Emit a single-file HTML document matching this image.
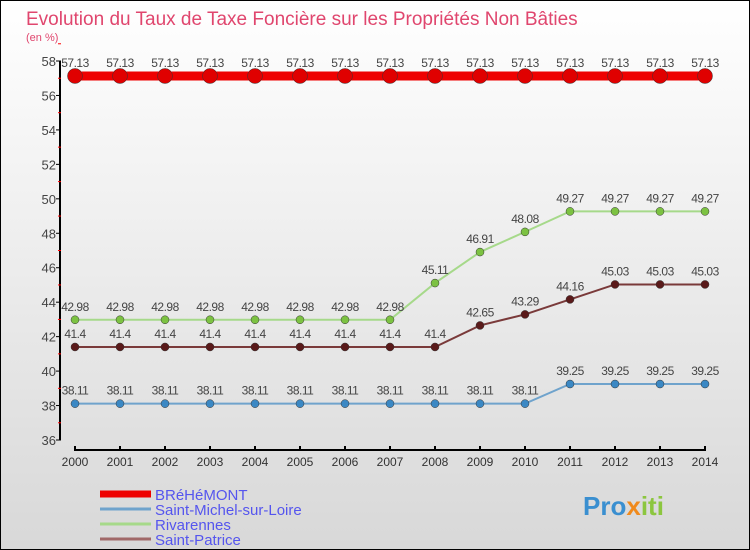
<!DOCTYPE html>
<html><head><meta charset="utf-8"><style>
body{margin:0;width:750px;height:550px;overflow:hidden}
svg{display:block;font-family:"Liberation Sans","DejaVu Sans",sans-serif}
</style></head><body>
<svg id="c" width="750" height="550">
<defs><linearGradient id="bg" x1="0" y1="0" x2="0" y2="1"><stop offset="0" stop-color="#ffffff"/><stop offset="1" stop-color="#d8d8d8"/></linearGradient></defs>
<rect x="0.5" y="0.5" width="749" height="549" fill="url(#bg)" stroke="#000"/>
<text x="26" y="25" font-size="19" fill="#e0466e">Evolution du Taux de Taxe Foncière sur les Propriétés Non Bâties</text>
<text x="26" y="41" font-size="11" fill="#e0466e">(en %)</text>
<g id="axes"></g><g id="series"></g><g id="legend"></g>
<text x="583" y="515" font-size="26" font-weight="bold" fill="#3a8fd0">Pro<tspan fill="#f08a1c">x</tspan><tspan fill="#8cc63f">iti</tspan></text>
</svg>
<script>
const years=[2000,2001,2002,2003,2004,2005,2006,2007,2008,2009,2010,2011,2012,2013,2014];
const yTicks=[36,38,40,42,44,46,48,50,52,54,56,58];
const names=["BRéHéMONT","Saint-Michel-sur-Loire","Rivarennes","Saint-Patrice"];
const bre=[57.13,57.13,57.13,57.13,57.13,57.13,57.13,57.13,57.13,57.13,57.13,57.13,57.13,57.13,57.13];
const stm=[38.11,38.11,38.11,38.11,38.11,38.11,38.11,38.11,38.11,38.11,38.11,39.25,39.25,39.25,39.25];
const riv=[42.98,42.98,42.98,42.98,42.98,42.98,42.98,42.98,45.11,46.91,48.08,49.27,49.27,49.27,49.27];
const stp=[41.4,41.4,41.4,41.4,41.4,41.4,41.4,41.4,41.4,42.65,43.29,44.16,45.03,45.03,45.03];
const NS="http://www.w3.org/2000/svg";
function X(y){return 75+(y-2000)*45;}
function Y(v){return 440-(v-36)*(379/22);}
function mk(t,a,p,txt){const e=document.createElementNS(NS,t);for(const k in a)e.setAttribute(k,a[k]);if(txt!=null)e.textContent=txt;p.appendChild(e);return e;}
const ax=document.getElementById('axes');
let e=mk('line',{x1:60,y1:Y(58),x2:60,y2:440,stroke:'#000','stroke-width':2},ax);


yTicks.forEach(t=>{
 let l=mk('line',{x1:56,y1:Y(t),x2:61,y2:Y(t),stroke:'#000'},ax);
 
 
 let m=mk('line',{x1:58,y1:Y(t+1),x2:61,y2:Y(t+1),stroke:'#f00'},ax);
 
 
 let tx=mk('text',{x:56,y:Y(t)+5,'font-size':13,'text-anchor':'end',fill:'#444'},ax,t);
 
 
});
e=mk('line',{x1:75,y1:450,x2:705,y2:450,stroke:'#000','stroke-width':2},ax);


years.forEach(y=>{
 let l=mk('line',{x1:X(y),y1:446,x2:X(y),y2:451,stroke:'#000','stroke-width':2},ax);
 
 
 let t=mk('text',{x:X(y),y:466,'font-size':12,'text-anchor':'middle',fill:'#333'},ax,y);
 
 
});
const sg=document.getElementById('series');
const specs=[[stm,'#6fa3cc',2,'#3b88c4',4],[riv,'#a6d98a',2,'#7cc242',4],[stp,'#7a3a3a',2,'#5a1a1a',4],[bre,'#ee0000',9,'#e00000',7.5]];
const sn=['saint-michel','rivarennes','saint-patrice','brehemont'];
specs.forEach((s,i)=>{
 const d=s[0],g=mk('g',{},sg);
 
 
 let p=mk('polyline',{points:d.map((v,j)=>X(years[j])+','+Y(v)).join(' '),fill:'none',stroke:s[1],'stroke-width':s[2]},g);
 
 
 d.forEach((v,j)=>{
  let c=mk('circle',{cx:X(years[j]),cy:Y(v),r:s[4],fill:s[3],stroke:'#333','stroke-width':0.5},g);
  
  
  let t=mk('text',{x:X(years[j]),y:Y(v)-9,'font-size':12,'text-anchor':'middle',fill:'#444','letter-spacing':'-0.5'},g,v);
  
  
 });
});
const lg=document.getElementById('legend');
const lc=['#ee0000','#6fa3cc','#a6d98a','#a06868'],lw=[7,3,3,3];
names.forEach((n,i)=>{
 const y=494+i*15;
 let l=mk('line',{x1:100,y1:y,x2:151,y2:y,stroke:lc[i],'stroke-width':lw[i]},lg);
 
 
 let t=mk('text',{x:155,y:y+6,'font-size':15,fill:'#5555ee'},lg,n);
 
 
});
</script>
</body></html>
